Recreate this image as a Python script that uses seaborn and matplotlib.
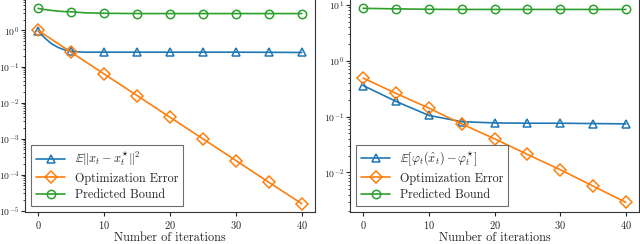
import numpy as np
import pandas as pd
import seaborn as sns
import matplotlib
import matplotlib.pyplot as plt

sns.set_theme(style="ticks")
plt.rcParams["font.family"] = ["cmr10", "DejaVu Serif"]
plt.rcParams["mathtext.fontset"] = "cm"
plt.rcParams["axes.formatter.use_mathtext"] = True
plt.rcParams["axes.unicode_minus"] = False

# left panel: distance to optimum
left_blue_x = [0, 1, 2, 3, 4, 5, 6, 7, 8, 10, 15, 20, 25, 30, 35, 40]
left_blue_y = [0.98, 0.62, 0.43, 0.34, 0.29, 0.265, 0.255, 0.25, 0.25, 0.25,
               0.25, 0.25, 0.25, 0.25, 0.248, 0.245]
left_orange_x = [0, 5, 10, 15, 20, 25, 30, 35, 40]
left_orange_y = [1.0, 0.25, 0.062, 0.0156, 0.0039, 9.8e-4, 2.45e-4, 6.1e-5, 1.55e-5]
left_green_x = [0, 1, 2, 3, 4, 5, 7, 10, 15, 20, 25, 30, 35, 40]
left_green_y = [4.1, 3.8, 3.6, 3.45, 3.35, 3.3, 3.1, 3.0, 2.95, 2.95, 2.95, 2.95, 2.95, 2.95]

# right panel: function suboptimality
right_blue_x = [0, 5, 10, 15, 20, 25, 30, 35, 40]
right_blue_y = [0.36, 0.187, 0.105, 0.081, 0.077, 0.076, 0.076, 0.075, 0.074]
right_orange_x = [0, 5, 10, 15, 20, 25, 30, 35, 40]
right_orange_y = [0.49, 0.26, 0.142, 0.074, 0.040, 0.021, 0.0112, 0.0057, 0.0029]
right_green_x = [0, 5, 10, 15, 20, 25, 30, 35, 40]
right_green_y = [8.7, 8.5, 8.35, 8.3, 8.3, 8.3, 8.3, 8.3, 8.3]

LEFT_LABEL = r"$\mathbb{E}\|x_t - x_t^{\star}\|^2$"
RIGHT_LABEL = r"$\mathbb{E}[\varphi_t(\hat{x}_t) - \varphi_t^{\star}]$"

C_BLUE, C_ORANGE, C_GREEN = "#1f77b4", "#ff7f0e", "#2ca02c"


def draw(ax, x, y, color, marker, label):
    df = pd.DataFrame({"it": x, "val": y})
    marks = [i for i, v in enumerate(x) if v % 5 == 0]
    sns.lineplot(data=df, x="it", y="val", ax=ax, color=color, marker=marker,
                 markevery=marks, markersize=6, markerfacecolor="none",
                 markeredgecolor=color, markeredgewidth=1.1, linewidth=1.2,
                 label=label, legend=False)


def style(ax, ylim):
    ax.set_yscale("log")
    ax.set_xlim(-2, 42)
    ax.set_ylim(*ylim)
    ax.set_xticks([0, 10, 20, 30, 40])
    ax.set_xlabel("Number of iterations", fontsize=8.8, labelpad=0.5)
    ax.set_ylabel("")
    ax.tick_params(labelsize=7.5, length=3, width=0.8, pad=2)
    ax.tick_params(axis="y", labelsize=7, pad=1.2)
    ax.tick_params(which="minor", length=1.8, width=0.6)
    for s in ax.spines.values():
        s.set_linewidth(0.8)
        s.set_color("#333333")
    leg = ax.legend(loc="lower left", fontsize=8.8, fancybox=False,
                    edgecolor="#555555", framealpha=0.85, handlelength=2.4,
                    borderpad=0.4, labelspacing=0.35)
    leg.get_frame().set_linewidth(0.8)


fig = plt.figure(figsize=(6.4, 2.44), dpi=100)
ax1 = fig.add_axes([25 / 640, 0.131, 290 / 640, 0.874])
ax2 = fig.add_axes([350 / 640, 0.131, 289 / 640, 0.874])

draw(ax1, left_blue_x, left_blue_y, C_BLUE, "^", LEFT_LABEL)
draw(ax1, left_orange_x, left_orange_y, C_ORANGE, "D", "Optimization Error")
draw(ax1, left_green_x, left_green_y, C_GREEN, "o", "Predicted Bound")
style(ax1, (10 ** -5.04, 10 ** 0.88))

draw(ax2, right_blue_x, right_blue_y, C_BLUE, "^", RIGHT_LABEL)
draw(ax2, right_orange_x, right_orange_y, C_ORANGE, "D", "Optimization Error")
draw(ax2, right_green_x, right_green_y, C_GREEN, "o", "Predicted Bound")
style(ax2, (10 ** -2.71, 10 ** 1.11))

fig.savefig("out.png", dpi=100)
